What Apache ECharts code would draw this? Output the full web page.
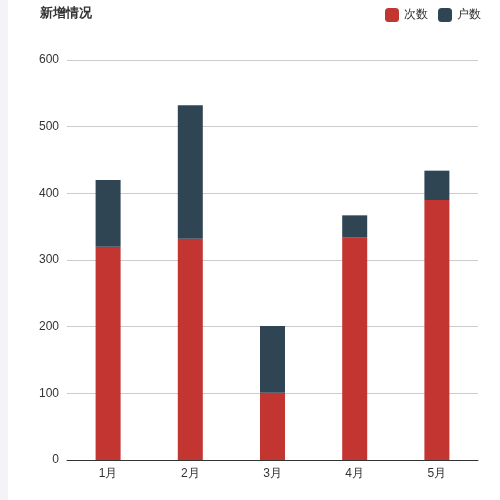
<!DOCTYPE html>
<html><head><meta charset="utf-8">
<script src="https://cdn.jsdelivr.net/npm/echarts@6/dist/echarts.min.js"></script>
<style>html,body{margin:0;padding:0;background:#fff}#c{width:500px;height:500px}
#strip{position:absolute;left:0;top:0;width:8px;height:500px;background:#f3f3f8}</style>
</head><body><div id="strip"></div><div id="c"></div>
<script>
var categories=['1月','2月','3月','4月','5月'];
var countValues=[320,332,101,334,390];
var householdValues=[100,200,100,33,44];
var chart=echarts.init(document.getElementById('c'));
chart.setOption({
  title:{text:'新增情况',left:35,top:2,textStyle:{fontSize:13,fontWeight:'bold',color:'#333'}},
  legend:{right:14,top:3,itemWidth:14,itemHeight:14,itemGap:10,icon:'roundRect',textStyle:{fontSize:12,color:'#333'},data:['次数','户数']},
  grid:{left:67,right:22,top:60,bottom:40},
  xAxis:{type:'category',data:categories,axisTick:{alignWithLabel:false},axisLine:{lineStyle:{color:'#333'}},axisLabel:{color:'#333',fontSize:12}},
  yAxis:{type:'value',min:0,max:600,interval:100,axisLine:{show:false},axisTick:{show:false},axisLabel:{color:'#333',fontSize:12},splitLine:{lineStyle:{color:'#ccc'}}},
  series:[
    {name:'次数',type:'bar',stack:'a',barWidth:25,data:countValues,itemStyle:{color:'#c23531'}},
    {name:'户数',type:'bar',stack:'a',barWidth:25,data:householdValues,itemStyle:{color:'#2f4554'}}
  ]
});
</script></body></html>
